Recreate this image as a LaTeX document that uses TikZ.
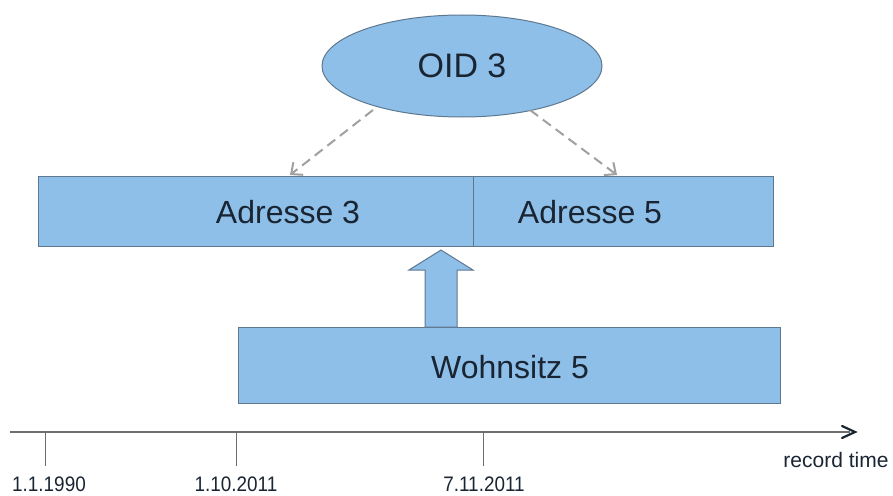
\documentclass[tikz,border=0pt]{standalone}
\usepackage{fontspec}
\setmainfont{Liberation Sans}
\usetikzlibrary{shapes.geometric,arrows.meta}
\definecolor{boxfill}{HTML}{8EBFE8}
\definecolor{boxline}{HTML}{5E7890}
\definecolor{txt}{HTML}{1A2533}
\definecolor{dashc}{HTML}{A0A0A0}
\definecolor{axisc}{HTML}{6E6E6E}
\tikzset{
  blue box/.style={draw=boxline, fill=boxfill, line width=1pt, inner sep=0pt},
  big text/.style={text=txt, font=\fontsize{32}{36}\selectfont, inner sep=0pt},
  small text/.style={text=txt, font=\fontsize{21}{24}\selectfont, inner sep=0pt},
  dash arrow/.style={draw=dashc, line width=2pt, dash pattern=on 10pt off 6pt, -{Straight Barb[length=9pt,width=16pt,line width=2pt]}},
  tickline/.style={draw=axisc, line width=1pt}
}
\begin{document}
\begin{tikzpicture}[x=1pt,y=-1pt]
\useasboundingbox (0,0) rectangle (893,495);
% ellipse
\node[blue box, ellipse, minimum width=280pt, minimum height=102pt] (oid) at (462,66) {};
\node[big text, font=\fontsize{34}{38}\selectfont] (oidt) at (462,66) {OID 3};
% address boxes
\node[blue box, rectangle, minimum width=435pt, minimum height=70pt] (a3box) at (255.5,211) {};
\node[blue box, rectangle, minimum width=300pt, minimum height=70pt] (a5box) at (623,211) {};
\node[big text] (a3) at (288,212) {Adresse 3};
\node[big text] (a5) at (590,212) {Adresse 5};
% wohnsitz box
\node[blue box, rectangle, minimum width=542pt, minimum height=76pt] (wbox) at (509,365) {};
\node[big text] (w) at (510,367) {Wohnsitz 5};
% dashed arrows
\coordinate (s1) at (373,110);
\coordinate (s2) at (530,110);
\coordinate (e1) at (290,175);
\coordinate (e2) at (617,175);
\draw[dash arrow] (s1) -- (e1);
\draw[dash arrow] (s2) -- (e2);
% block arrow
\draw[blue box, line join=miter] (425,327) -- (425,270) -- (409,270) -- (441,250) -- (473,270) -- (457,270) -- (457,327) -- cycle;
% time axis
\coordinate (ax0) at (10,432);
\draw[draw=axisc, line width=1.5pt] (ax0) -- (850,432);
\draw[draw=txt, line width=2.2pt, line cap=round, line join=miter] (842,426) -- (855,432) -- (842,438);
\coordinate (t1) at (45,432);
\coordinate (t2) at (236,432);
\coordinate (t3) at (483,432);
\draw[tickline] (t1) -- ++(0,34);
\draw[tickline] (t2) -- ++(0,34);
\draw[tickline] (t3) -- ++(0,34);
\node[small text] (l1) at (49,484) {\scalebox{0.9}[1]{1.1.1990}};
\node[small text] (l2) at (236,484) {\scalebox{0.9}[1]{1.10.2011}};
\node[small text] (l3) at (484,484) {\scalebox{0.9}[1]{7.11.2011}};
\node[small text] (rt) at (836,460) {record time};
\end{tikzpicture}
\end{document}
